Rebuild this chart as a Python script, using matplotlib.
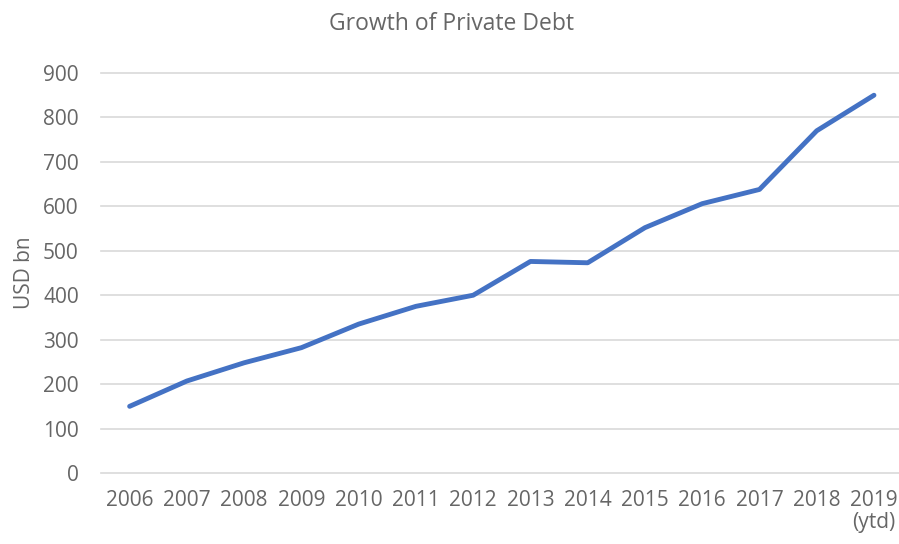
import matplotlib
matplotlib.use("Agg")
import matplotlib.pyplot as plt

years = ["2006", "2007", "2008", "2009", "2010", "2011", "2012",
         "2013", "2014", "2015", "2016", "2017", "2018", "2019\n(ytd)"]
debt = [150, 207, 248, 282, 335, 375, 400, 476, 473, 552, 606, 638, 770, 850]
yticks = [0, 100, 200, 300, 400, 500, 600, 700, 800, 900]

grey = "#666666"
plt.rcParams['font.family'] = ['Open Sans', 'DejaVu Sans']

W, H = 899, 544
fig = plt.figure(figsize=(W / 100, H / 100), dpi=100)
ax = fig.add_axes([101 / W, (H - 473) / H, (902.6 - 101) / W, 400 / H])

x = list(range(len(years)))
ax.plot(x, debt, color="#4472C4", linewidth=3.5, solid_capstyle="round",
        solid_joinstyle="round", zorder=3)

ax.set_xlim(-0.5, len(years) - 0.5)
ax.set_ylim(0, 900)
ax.set_yticks(yticks)
ax.set_xticks(x)
ax.set_xticklabels(years, linespacing=1.1)
ax.grid(axis="y", color="#D9D9D9", linewidth=1.2, zorder=0)
for gl in ax.get_ygridlines():
    gl.set_clip_on(False)
ax.set_axisbelow(True)
for s in ax.spines.values():
    s.set_visible(False)
ax.tick_params(length=0, colors=grey, labelsize=15)
ax.tick_params(axis="y", pad=16)
ax.tick_params(axis="x", pad=12)

ax.set_ylabel("USD bn", color=grey, fontsize=15, labelpad=6)
fig.text(452 / W, 1 - 24 / H, "Growth of Private Debt", color=grey,
         fontsize=16.5, ha="center", va="center")

fig.savefig("out.png", dpi=100)
